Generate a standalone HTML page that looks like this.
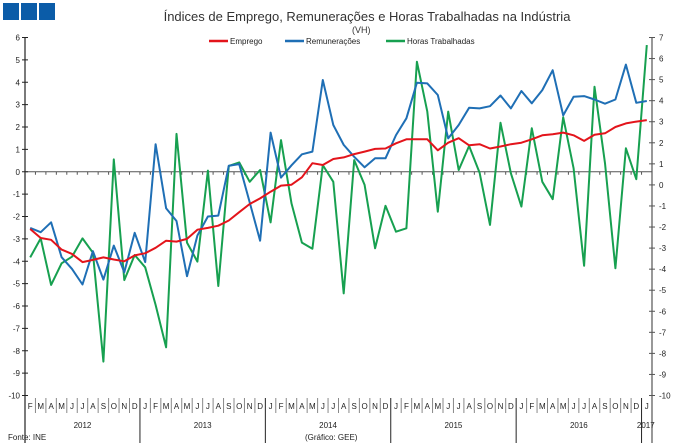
<!DOCTYPE html>
<html><head><meta charset="utf-8"><style>
body{margin:0;background:#fff;width:680px;height:446px;overflow:hidden}
svg{display:block;font-family:"Liberation Sans",sans-serif}
</style></head><body>
<svg id="chart" width="680" height="446" viewBox="0 0 680 446">
<g>
<rect x="3" y="3" width="16" height="17" fill="#0b5ca8"/><rect x="21" y="3" width="16" height="17" fill="#0b5ca8"/><rect x="39" y="3" width="16" height="17" fill="#0b5ca8"/>
</g>
<text x="367" y="21" text-anchor="middle" font-size="13" fill="#333">Índices de Emprego, Remunerações e Horas Trabalhadas na Indústria</text>
<text x="352" y="33" font-size="9" fill="#333">(VH)</text>
<g font-size="8" fill="#222">
<g><line x1="209" y1="41" x2="228" y2="41" stroke="#e3141b" stroke-width="2.5"/><text x="230" y="44">Emprego</text></g>
<g><line x1="285" y1="41" x2="304" y2="41" stroke="#1f6fb5" stroke-width="2.5"/><text x="306" y="44">Remunerações</text></g>
<g><line x1="386" y1="41" x2="405" y2="41" stroke="#17a050" stroke-width="2.5"/><text x="407" y="44">Horas Trabalhadas</text></g>
</g>
<g id="axes"></g>
<g id="series"></g>
<text x="8" y="440" font-size="8" fill="#222">Fonte: INE</text>
<text x="305" y="440" font-size="8" fill="#222">(Gráfico: GEE)</text>
</svg>
<script>
const months=["F","M","A","M","J","J","A","S","O","N","D","J","F","M","A","M","J","J","A","S","O","N","D","J","F","M","A","M","J","J","A","S","O","N","D","J","F","M","A","M","J","J","A","S","O","N","D","J","F","M","A","M","J","J","A","S","O","N","D","J"];
const years=["2012","2013","2014","2015","2016","2017"];
const leftTicks=[6,5,4,3,2,1,0,-1,-2,-3,-4,-5,-6,-7,-8,-9,-10];
const rightTicks=[7,6,5,4,3,2,1,0,-1,-2,-3,-4,-5,-6,-7,-8,-9,-10];
const emprego=[-2.56,-2.96,-3.04,-3.48,-3.67,-4.04,-3.94,-3.83,-3.92,-4.0,-3.74,-3.64,-3.4,-3.08,-3.12,-3.0,-2.59,-2.51,-2.41,-2.18,-1.81,-1.44,-1.19,-0.89,-0.62,-0.58,-0.25,0.38,0.3,0.57,0.64,0.79,0.9,1.02,1.04,1.27,1.45,1.45,1.45,0.96,1.3,1.5,1.18,1.23,1.04,1.13,1.23,1.3,1.45,1.63,1.68,1.75,1.63,1.38,1.65,1.72,2.0,2.16,2.24,2.31];
const remuneracoes=[-2.51,-2.7,-2.26,-3.82,-4.34,-5.04,-3.55,-4.82,-3.3,-4.49,-2.73,-4.04,1.23,-1.63,-2.2,-4.67,-2.85,-2.0,-1.96,0.27,0.34,-1.37,-3.08,1.75,-0.26,0.29,0.78,0.9,4.1,2.09,1.2,0.67,0.2,0.6,0.6,1.64,2.39,3.98,3.95,3.43,1.49,2.09,2.86,2.83,2.93,3.41,2.83,3.61,3.06,3.65,4.54,2.52,3.35,3.38,3.23,3.04,3.23,4.79,3.08,3.16];
const horas=[-3.44,-2.54,-4.75,-3.72,-3.41,-2.54,-3.22,-8.39,1.21,-4.52,-3.33,-3.91,-5.7,-7.71,2.42,-2.74,-3.64,0.68,-4.8,0.9,1.07,0.15,0.71,-1.78,2.13,-0.88,-2.74,-3.03,0.94,0.15,-5.15,1.18,0,-3.01,-0.99,-2.22,-2.06,5.85,3.48,-1.27,3.48,0.71,1.85,0.58,-1.9,2.95,0.55,-1.03,2.69,0.15,-0.68,3.21,0.79,-3.84,4.66,1.03,-3.96,1.74,0.27,6.64];

const X0=25,X1=652,TOP=37.5,BOT=395.5,N=months.length,STEP=(X1-X0)/N;
const xPos=k=>X0+(k+0.5)*STEP;
const yL=v=>TOP+(6-v)*(BOT-TOP)/16;
const yR=v=>TOP+(7-v)*(BOT-TOP)/17;
const NS="http://www.w3.org/2000/svg";
function mk(tag,attrs,parent){const e=document.createElementNS(NS,tag);for(const k in attrs)e.setAttribute(k,attrs[k]);parent.appendChild(e);return e;}
const ax=document.getElementById("axes");
let e;
e=mk("line",{x1:X0,y1:TOP,x2:X0,y2:443,stroke:"#222","stroke-width":1.2},ax);


e=mk("line",{x1:X1,y1:TOP,x2:X1,y2:443,stroke:"#555","stroke-width":1.2},ax);


e=mk("line",{x1:X0,y1:yL(0),x2:X1,y2:yL(0),stroke:"#555","stroke-width":1},ax);


leftTicks.forEach(v=>{
 mk("line",{x1:X0-3,y1:yL(v),x2:X0+3,y2:yL(v),stroke:"#222"},ax);
 e=mk("text",{x:X0-5,y:yL(v)+3,"text-anchor":"end","font-size":8,fill:"#222"},ax);
 e.textContent=v;
 
 
});
rightTicks.forEach(v=>{
 mk("line",{x1:X1-3,y1:yR(v),x2:X1+3,y2:yR(v),stroke:"#555"},ax);
 e=mk("text",{x:X1+7,y:yR(v)+3,"font-size":8,fill:"#222"},ax);
 e.textContent=v;
 
 
});
for(let k=1;k<N;k++){
 const x=X0+k*STEP;
 mk("line",{x1:x,y1:yL(0),x2:x,y2:yL(0)+3,stroke:"#555"},ax);
 const yearBoundary=(k-11)%12===0;
 mk("line",{x1:x,y1:398,x2:x,y2:yearBoundary?443:413,stroke:yearBoundary?"#222":"#888"},ax);
}
months.forEach((m,k)=>{
 e=mk("text",{x:xPos(k),y:409,"text-anchor":"middle","font-size":8,fill:"#222"},ax);
 e.textContent=m;
 
 
});
years.forEach((yv,i)=>{
 let s=i===0?0:11+(i-1)*12, en=Math.min(N,11+i*12);
 const cx=i===years.length-1?xPos(N-1)-1:(X0+s*STEP+X0+en*STEP)/2;
 e=mk("text",{x:cx,y:428,"text-anchor":"middle","font-size":8,fill:"#222"},ax);
 e.textContent=yv;
 
 
});
const sg=document.getElementById("series");
function line(data,yf,color,name){
 const p=mk("polyline",{points:data.map((v,k)=>xPos(k).toFixed(1)+","+yf(v).toFixed(1)).join(" "),fill:"none",stroke:color,"stroke-width":2,"stroke-linejoin":"round"},sg);
 
 
}
line(horas,yR,"#17a050","horas-trabalhadas-line");
line(remuneracoes,yL,"#1f6fb5","remuneracoes-line");
line(emprego,yL,"#e3141b","emprego-line");
</script>
</body></html>
